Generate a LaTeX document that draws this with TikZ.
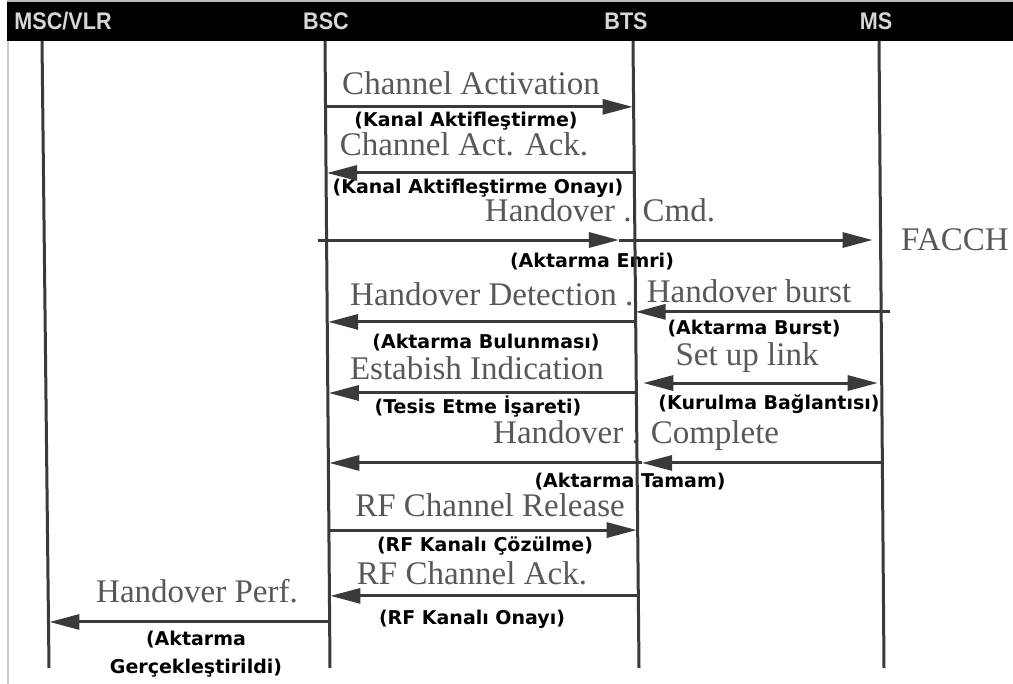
\documentclass[tikz,border=0pt]{standalone}
\usepackage{graphicx}
\usepackage{fontspec}
\setmainfont{Liberation Serif}
\newfontfamily\lblfont{DejaVu Sans}
\newfontfamily\hdrfont{Liberation Sans}
\usetikzlibrary{arrows.meta,calc}
\definecolor{lifeclr}{RGB}{58,58,58}
\definecolor{msgclr}{RGB}{88,88,88}
\definecolor{hdrtext}{RGB}{215,215,215}
\begin{document}
\begin{tikzpicture}[x=1pt,y=-1pt,
  life/.style={line width=3pt, draw=lifeclr},
  msg/.style={line width=3pt, draw=lifeclr, -{Triangle[length=30pt,width=15pt]}},
  dmsg/.style={line width=3pt, draw=lifeclr, {Triangle[length=30pt,width=15pt]}-{Triangle[length=30pt,width=15pt]}},
  title/.style={font=\fontsize{33}{36}\selectfont, text=msgclr, inner sep=0pt, anchor=base},
  lbl/.style={font=\lblfont\bfseries\fontsize{19}{22}\selectfont, text=black, inner sep=0pt, anchor=base},
  hdr/.style={font=\hdrfont\bfseries\fontsize{24}{26}\selectfont, text=hdrtext, inner sep=0pt, anchor=base}]
\useasboundingbox (0,0) rectangle (1013,684);
\fill[white] (0,0) rectangle (1013,684);

% header
\fill[black] (7,2) rectangle (1013,41);
\draw[gray!55, line width=1.5pt] (7,1) -- (1013,1);
\draw[gray!40, line width=1.2pt] (8,41) -- (8,684);
\node[hdr] (hMSC) at (63,30) {\scalebox{0.9}[1]{MSC/VLR}};
\node[hdr] (hBSC) at (326,30) {\scalebox{0.9}[1]{BSC}};
\node[hdr] (hBTS) at (626,30) {\scalebox{0.9}[1]{BTS}};
\node[hdr] (hMS) at (876,30) {\scalebox{0.9}[1]{MS}};

% lifeline ends
\coordinate (mscT) at (42,41);  \coordinate (mscB) at (49,668);
\coordinate (bscT) at (325,41); \coordinate (bscB) at (330,668);
\coordinate (btsT) at (633,41); \coordinate (btsB) at (639,668);
\coordinate (msT)  at (879,41); \coordinate (msB)  at (884,668);

% message texts
\node[title] (t1) at (471,95) {Channel Activation};
\node[title] (t2) at (464,156) {Channel Act. Ack.};
\node[title] (t3) at (600,222) {Handover . Cmd.};
\node[title] (t4) at (955,251) {FACCH};
\node[title, anchor=base west] (t5) at (350,306) {Handover Detection .};
\node[title] (t6) at (749,303) {Handover burst};
\node[title] (t7) at (477,380) {Estabish Indication};
\node[title] (t8) at (747,366) {Set up link};
\node[title, anchor=base west] (t9) at (493,444) {Handover . Complete};
\node[title] (t10) at (490,517) {RF Channel Release};
\node[title] (t11) at (472,585) {RF Channel Ack.};
\node[title] (t12) at (197,602) {Handover Perf.};

% labels
\node[lbl] (l1) at (466,127) {(Kanal Aktifleştirme)};
\node[lbl] (l2) at (478,194) {(Kanal Aktifleştirme Onayı)};
\node[lbl] (l3) at (592,268) {(Aktarma Emri)};
\node[lbl] (l4) at (486,349) {(Aktarma Bulunması)};
\node[lbl] (l5) at (754,335) {(Aktarma Burst)};
\node[lbl] (l6) at (478,414) {(Tesis Etme İşareti)};
\node[lbl] (l7) at (769,410) {(Kurulma Bağlantısı)};
\node[lbl] (l8) at (630,488) {(Aktarma Tamam)};
\node[lbl] (l9) at (485,552) {(RF Kanalı Çözülme)};
\node[lbl] (l10) at (472,624) {(RF Kanalı Onayı)};
\node[lbl, font=\lblfont\bfseries\fontsize{19}{28}\selectfont, align=center, anchor=north] (l11) at (196,631) {(Aktarma\\Gerçekleştirildi)};

% lifelines
\draw[life] (mscT) -- (mscB);
\draw[life] (bscT) -- (bscB);
\draw[life] (btsT) -- (btsB);
\draw[life] (msT) -- (msB);

% 1 Channel Activation
\coordinate (a1L) at ($(bscT)!0.105!(bscB)$);
\coordinate (a1R) at ($(btsT)!0.105!(btsB)+(-1,0)$);
\draw[msg] (a1L) -- (a1R);
% 2 Channel Act. Ack.
\coordinate (a2R) at ($(btsT)!0.2105!(btsB)$);
\coordinate (a2L) at ($(bscT)!0.2105!(bscB)+(1,0)$);
\draw[msg] (a2R) -- (a2L);
% 3 Handover Cmd
\coordinate (a3L) at ($(bscT)!0.3174!(bscB)+(-9,0)$);
\coordinate (a3M) at ($(btsT)!0.3174!(btsB)+(-16,0)$);
\coordinate (a3R) at ($(msT)!0.3174!(msB)+(-8,0)$);
\draw[msg] (a3L) -- (a3M);
\draw[msg] (a3M) -- (a3R);
% 4a Handover Detection
\coordinate (a4R) at ($(btsT)!0.448!(btsB)$);
\coordinate (a4L) at ($(bscT)!0.448!(bscB)+(1,0)$);
\draw[msg] (a4R) -- (a4L);
% 4b Handover burst
\coordinate (b4R) at ($(msT)!0.432!(msB)+(9,0)$);
\coordinate (b4L) at ($(btsT)!0.432!(btsB)$);
\draw[msg] (b4R) -- (b4L);
% 5a Establish Indication
\coordinate (a5R) at ($(btsT)!0.5614!(btsB)$);
\coordinate (a5L) at ($(bscT)!0.5614!(bscB)+(1,0)$);
\draw[msg] (a5R) -- (a5L);
% 5b Set up link
\coordinate (b5L) at ($(btsT)!0.5455!(btsB)+(7,0)$);
\coordinate (b5R) at ($(msT)!0.5455!(msB)+(-4,0)$);
\draw[dmsg] (b5L) -- (b5R);
% 6 Handover Complete
\coordinate (a6R) at ($(msT)!0.673!(msB)$);
\coordinate (a6M) at ($(btsT)!0.673!(btsB)+(5,0)$);
\coordinate (a6L) at ($(bscT)!0.673!(bscB)+(1,0)$);
\draw[msg] (a6R) -- (a6M);
\draw[msg] (a6M) -- (a6L);
% 7 RF Channel Release
\coordinate (a7L) at ($(bscT)!0.78!(bscB)$);
\coordinate (a7R) at ($(btsT)!0.78!(btsB)+(-1,0)$);
\draw[msg] (a7L) -- (a7R);
% 8 RF Channel Ack
\coordinate (a8R) at ($(btsT)!0.885!(btsB)$);
\coordinate (a8L) at ($(bscT)!0.885!(bscB)+(1,0)$);
\draw[msg] (a8R) -- (a8L);
% 9 Handover Perf
\coordinate (a9R) at ($(bscT)!0.9266!(bscB)$);
\coordinate (a9L) at ($(mscT)!0.9266!(mscB)+(1,0)$);
\draw[msg] (a9R) -- (a9L);
\end{tikzpicture}
\end{document}
